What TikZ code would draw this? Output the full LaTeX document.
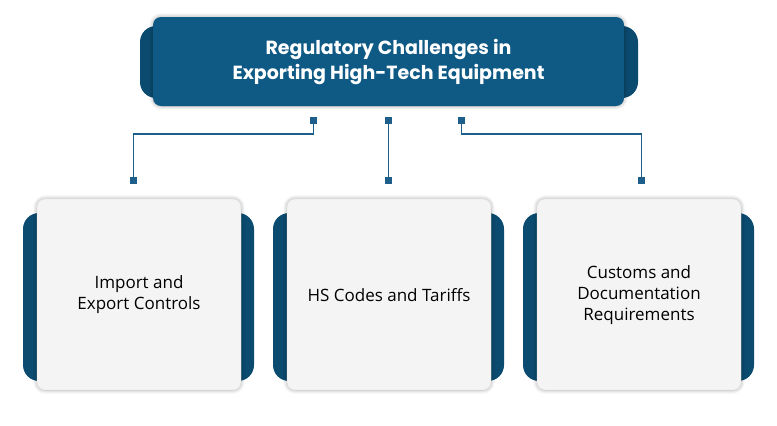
\documentclass[tikz,border=0pt]{standalone}
\usepackage{fontspec}
\setmainfont{Open Sans}
\newfontfamily\titlefont{Poppins}
\usetikzlibrary{shadows.blur}
\definecolor{mainblue}{HTML}{0F5A85}
\definecolor{tabblue}{HTML}{0B4B70}
\definecolor{linecol}{HTML}{1D5F8A}
\definecolor{cardfill}{HTML}{F4F4F5}
\tikzset{
  tabshape/.style={fill=tabblue, rounded corners=16pt},
  titlebox/.style={fill=mainblue, rounded corners=8pt, blur shadow={shadow blur steps=6, shadow xshift=0pt, shadow yshift=0pt, shadow blur radius=4pt, shadow opacity=35}},
  cardbox/.style={fill=cardfill, draw=black!12, line width=0.4pt, rounded corners=8pt, blur shadow={shadow blur steps=6, shadow xshift=0pt, shadow yshift=0pt, shadow blur radius=4pt, shadow opacity=35}},
  conn/.style={draw=linecol, line width=1.4pt},
  sq/.style={fill=linecol, minimum size=7pt, inner sep=0pt},
  cardtext/.style={align=center, font=\fontsize{17}{21}\selectfont, text=black},
}
\begin{document}
\begin{tikzpicture}[x=1pt,y=-1pt]
\useasboundingbox (0,0) rectangle (777,426);
% title
\fill[tabshape] (140,26) rectangle (638,98);
\path[titlebox] (153,17) rectangle (624,106);
\node[align=center, text=white, font=\fontsize{19}{25}\titlefont\bfseries] (title) at (388.5,62.5) {Regulatory Challenges in\\Exporting High-Tech Equipment};
% cards
\foreach \x/\n in {37/a,287/b,537/c}{
  \fill[tabshape] (\x-14,213) rectangle (\x+217,381);
  \path[cardbox] (\x,199) rectangle (\x+204,390);
  \coordinate (\n) at (\x+102,295);
}
\node[cardtext] (t1) at (a) {Import and\\Export Controls};
\node[cardtext] (t2) at (b) {HS Codes and Tariffs};
\node[cardtext] (t3) at (c) {Customs and\\Documentation\\Requirements};
% connectors
\node[sq] (s1) at (313.5,120.5) {};
\node[sq] (s2) at (388.5,120.5) {};
\node[sq] (s3) at (461.5,120.5) {};
\node[sq] (e1) at (133.5,180.5) {};
\node[sq] (e2) at (388.5,180.5) {};
\node[sq] (e3) at (641.5,180.5) {};
\draw[conn] (s1.center) |- (133.5,134) -- (e1.center);
\draw[conn] (s2.center) -- (e2.center);
\draw[conn] (s3.center) |- (641.5,134) -- (e3.center);
\end{tikzpicture}
\end{document}
